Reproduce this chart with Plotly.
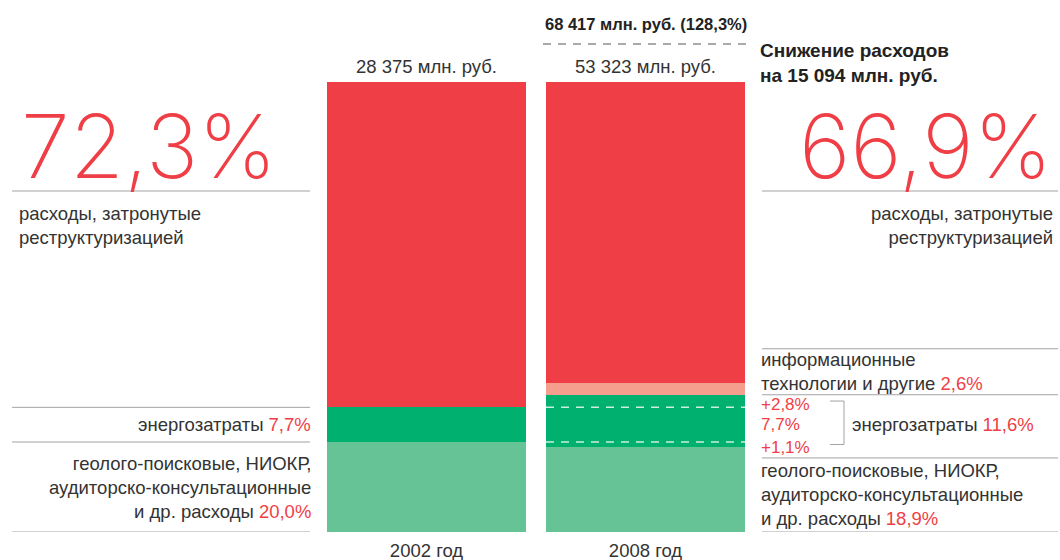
import plotly.graph_objects as go
import numpy as np

# ---- data: cost structure, % of total costs ----
years = ["2002 год", "2008 год"]
total_labels = ["28 375 млн. руб.", "53 323 млн. руб."]
no_restructuring_label = "68 417 млн. руб. (128,3%)"
saving_label = "Снижение расходов<br>на 15 094 млн. руб."

other_share = [20.0, 18.9]          # геолого-поисковые, НИОКР, консультации
energy_add_low = [0.0, 1.1]         # прирост энергозатрат (нижняя часть)
energy_base = [7.7, 7.7]            # энергозатраты на уровне 2002 г.
energy_add_high = [0.0, 2.8]        # прирост энергозатрат (верхняя часть)
it_share = [0.0, 2.6]               # информационные технологии и другие
restructured_share = [72.3, 66.9]   # расходы, затронутые реструктуризацией
energy_total_2008 = 11.6

# ---- style ----
RED = "#EF3E45"
SALMON = "#F59E8E"
GREEN = "#00B06F"
LIGHT_GREEN = "#66C395"
TEXT = "#333333"
RULE = "#A3A3A3"
FONT = "Liberation Sans, Arial, sans-serif"
THIN = "Inter, Roboto, sans-serif"
BODY = 18.5

W, H = 1060, 560
PLOT_H = 532            # plot area height (bottom margin holds year labels)
BAR_TOP_PX = 82
Y_TOP = 100 * PLOT_H / (PLOT_H - BAR_TOP_PX)
PX_PER_UNIT = (PLOT_H - BAR_TOP_PX) / 100
BAR_W = 199 / 219


def fx(px):
    return px / W


def fy(px):
    return (PLOT_H - px) / PLOT_H


def pct(v):
    return f"{v:.1f}".replace(".", ",") + "%"


def red(s):
    return f"<span style='color:{RED}'>{s}</span>"


layers = [
    (other_share, LIGHT_GREEN),
    (energy_add_low, GREEN),
    (energy_base, GREEN),
    (energy_add_high, GREEN),
    (it_share, SALMON),
    (restructured_share, RED),
]

fig = go.Figure()
for vals, col in layers:
    fig.add_trace(go.Bar(
        x=years, y=vals, width=BAR_W,
        marker=dict(color=col, line=dict(width=0)),
        hoverinfo="skip", showlegend=False,
    ))

# cumulative tops of each layer per year
stack = np.cumsum([np.array(v) for v, _ in layers], axis=0)
b_other = stack[0]
b_low = stack[1]
b_base = stack[2]
b_high = stack[3]
b_it = stack[4]

shapes = []
annotations = []


def hline(x0, x1, y, yref="y", color=RULE, width=1, dash=None):
    shapes.append(dict(type="line", xref="paper", yref=yref,
                       x0=fx(x0), x1=fx(x1), y0=y, y1=y,
                       line=dict(color=color, width=width, dash=dash)))


def text(s, x, y, xanchor="left", yref="paper", size=BODY, color=TEXT,
         family=FONT, align="left", weight=None, yshift=0):
    f = dict(size=size, color=color, family=family)
    if weight:
        f["weight"] = weight
    annotations.append(dict(text=s, x=fx(x), y=y, xref="paper", yref=yref,
                            xanchor=xanchor, yanchor="middle", align=align,
                            showarrow=False, font=f, yshift=yshift))


# dashed markers inside the 2008 energy block
for yv in (b_low[1], b_base[1]):
    shapes.append(dict(type="line", xref="x", yref="y",
                       x0=1 - BAR_W / 2, x1=1 + BAR_W / 2, y0=yv, y1=yv,
                       line=dict(color="#CDEDDD", width=1.5, dash="8px,7px")))

# totals above bars
text(total_labels[0], 426.5, fy(66), xanchor="center")
text(total_labels[1], 645.5, fy(66), xanchor="center")
text(no_restructuring_label, 645.5, fy(24), xanchor="center", size=16.5,
     weight="bold", color="#222222")
shapes.append(dict(type="line", xref="paper", yref="paper",
                   x0=fx(543), x1=fx(748), y0=fy(44), y1=fy(44),
                   line=dict(color="#555555", width=1.2, dash="8px,7px")))

# ---- left side (2002) ----
L0, L1 = 12, 310
text(pct(restructured_share[0]), 19, fy(146), size=88, color=RED,
     family=THIN, weight=200)
hline(L0, L1, fy(191), yref="paper")
text("расходы, затронутые<br>реструктуризацией", 17, fy(225))
hline(L0, L1, b_base[0])
text("энергозатраты " + red(pct(energy_base[0])), L1 + 3,
     (b_other[0] + b_base[0]) / 2, xanchor="right", yref="y")
hline(L0, L1, b_other[0])
text("геолого-поисковые, НИОКР,<br>аудиторско-консультационные<br>и др. расходы "
     + red(pct(other_share[0])), L1 + 3, b_other[0] / 2, xanchor="right",
     yref="y", align="right")
hline(L0, L1, 0)

# ---- right side (2008) ----
R0, R1 = 762, 1058
text(saving_label, R0 - 4, fy(63), size=19, weight="bold", color="#222222")
text(pct(restructured_share[1]), 1054, fy(146), xanchor="right", size=88,
     color=RED, family=THIN, weight=200)
hline(R0, R1, fy(191), yref="paper")
text("расходы, затронутые<br>реструктуризацией", 1055, fy(225),
     xanchor="right", align="right")

# IT block sits right above the energy block
hline(R0, R1, b_high[1])
hline(R0, R1, b_high[1] + 46 / PX_PER_UNIT)
text("информационные<br>технологии и другие " + red(pct(it_share[1])), R0 - 3,
     b_high[1], yref="y", yshift=23)

# energy block with bracket
y_hi = (b_base[1] + b_high[1]) / 2
y_mid = (b_low[1] + b_base[1]) / 2
y_lo = (b_other[1] + b_low[1]) / 2
text("+" + pct(energy_add_high[1]), R0 - 3, y_hi, yref="y", color=RED, size=17,
     yshift=-3)
text(pct(energy_base[1]), R0 - 3, y_mid, yref="y", color=RED, size=17)
text("+" + pct(energy_add_low[1]), R0 - 3, y_lo, yref="y", color=RED, size=17,
     yshift=-3)
for yv in (y_hi, y_lo):
    shapes.append(dict(type="line", xref="paper", yref="y",
                       x0=fx(830), x1=fx(844), y0=yv, y1=yv,
                       line=dict(color=RULE, width=1)))
shapes.append(dict(type="line", xref="paper", yref="y",
                   x0=fx(844), x1=fx(844), y0=y_hi, y1=y_lo,
                   line=dict(color=RULE, width=1)))
text("энергозатраты " + red(pct(energy_total_2008)), 850, y_mid, yref="y")

hline(R0, R1, b_other[1] - 11 / PX_PER_UNIT)
text("геолого-поисковые, НИОКР,<br>аудиторско-консультационные<br>и др. расходы "
     + red(pct(other_share[1])), R0 - 3, fy(494))
hline(R0, R1, 0)

fig.update_layout(
    width=W, height=H,
    margin=dict(l=0, r=0, t=0, b=H - PLOT_H),
    paper_bgcolor="white", plot_bgcolor="white",
    barmode="stack",
    showlegend=False,
    xaxis=dict(type="category", range=[-426.5 / 219, (W - 426.5) / 219],
               showgrid=False, zeroline=False, showline=False, ticks="",
               tickfont=dict(size=BODY, color=TEXT, family=FONT),
               ticklabelstandoff=5, fixedrange=True),
    yaxis=dict(range=[0, Y_TOP], visible=False, fixedrange=True),
    shapes=shapes,
    annotations=annotations,
    font=dict(family=FONT, color=TEXT),
)

fig.write_html("out.html")
